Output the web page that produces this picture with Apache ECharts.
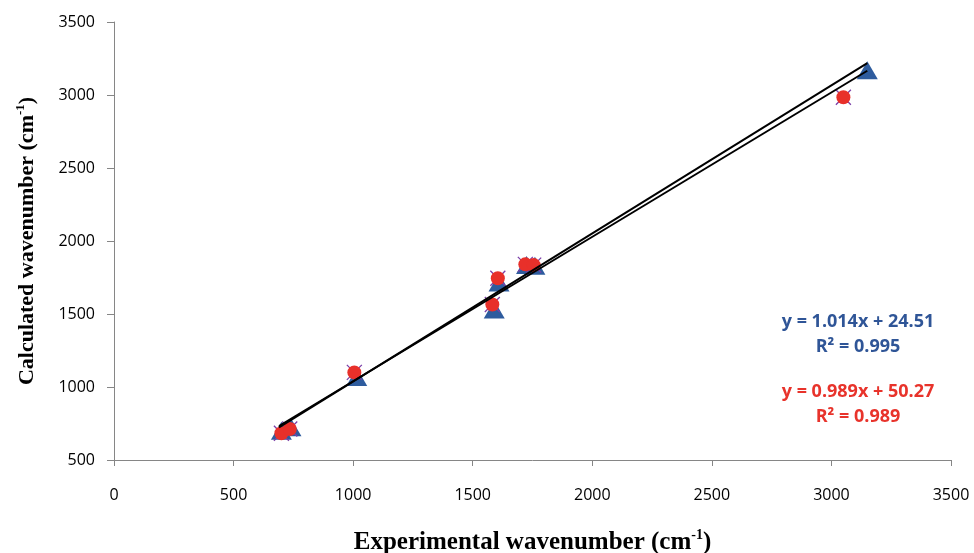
<!DOCTYPE html>
<html>
<head>
<meta charset="utf-8">
<script src="https://cdn.jsdelivr.net/npm/echarts@6/dist/echarts.min.js"></script>
<style>html,body{margin:0;padding:0;background:#fff}#c{width:974px;height:553px}</style>
</head>
<body>
<div id="c"></div>
<script>
// Data
var xTicks = [0, 500, 1000, 1500, 2000, 2500, 3000, 3500];
var yTicks = [500, 1000, 1500, 2000, 2500, 3000, 3500];
var blueTriangles = [[700, 700], [740, 725], [1015, 1068], [1590, 1530], [1610, 1715], [1725, 1835], [1760, 1830], [3150, 3170]];
var purpleCrosses = [[700, 683], [735, 712], [1005, 1100], [1582, 1565], [1605, 1745], [1720, 1840], [1755, 1835], [3050, 2985]];
var redCircles = [[700, 683], [735, 712], [1005, 1100], [1582, 1565], [1605, 1745], [1720, 1840], [1755, 1835], [3050, 2985]];
var blueFit = [[690, 724], [3150, 3219]];
var redFit = [[690, 733], [3150, 3166]];
var blueEq = ['y = 1.014x + 24.51', 'R² = 0.995'];
var redEq = ['y = 0.989x + 50.27', 'R² = 0.989'];

var chart = echarts.init(document.getElementById('c'));
var axisGrey = '#868686';
var tickFont = {fontFamily: 'Open Sans', fontSize: 16, color: '#000', formatter: function (v) { return String(v); }};
var crossPath = 'path://M0,0L10,10M10,0L0,10';
function titleRich(size) {
  return {rich: {
    a: {fontFamily: 'Liberation Serif', fontWeight: 'bold', fontSize: size, color: '#000', lineHeight: size + 4},
    s: {fontFamily: 'Liberation Serif', fontWeight: 'bold', fontSize: Math.round(size * 0.58), color: '#000', lineHeight: size + 4, verticalAlign: 'top', padding: [0, 0, Math.round(size * 0.45), 0]}
  }};
}
chart.setOption({
  animation: false,
  grid: {left: 114, right: 23, top: 22, bottom: 93, containLabel: false, outerBoundsMode: 'none'},
  xAxis: {
    type: 'value', min: 0, max: 3500, interval: 500,
    splitLine: {show: false},
    axisLine: {show: true, onZero: false, lineStyle: {color: axisGrey, width: 1}},
    axisTick: {show: true, length: 6, lineStyle: {color: axisGrey}},
    axisLabel: Object.assign({margin: 27}, tickFont),
    name: '{a|Experimental wavenumber (cm}{s|-1}{a|)}',
    nameLocation: 'middle', nameGap: 68,
    nameTextStyle: titleRich(25)
  },
  yAxis: {
    type: 'value', min: 500, max: 3500, interval: 500,
    splitLine: {show: false},
    axisLine: {show: true, onZero: false, lineStyle: {color: axisGrey, width: 1}},
    axisTick: {show: true, length: 7, lineStyle: {color: axisGrey}},
    axisLabel: Object.assign({margin: 19}, tickFont),
    name: '{a|Calculated wavenumber (cm}{s|-1}{a|)}',
    nameLocation: 'middle', nameGap: 74, nameRotate: 90,
    nameTextStyle: titleRich(22)
  },
  series: [
    {type: 'line', data: blueFit, showSymbol: false, symbol: 'none', lineStyle: {color: '#000', width: 2}, z: 5},
    {type: 'line', data: redFit, showSymbol: false, symbol: 'none', lineStyle: {color: '#000', width: 2}, z: 5},
    {type: 'scatter', data: blueTriangles, symbol: 'triangle', symbolSize: [21, 18], itemStyle: {color: '#2E5C9E', opacity: 1}, z: 2},
    {type: 'scatter', data: purpleCrosses, symbol: crossPath, symbolSize: 15, itemStyle: {color: 'none', borderColor: '#7B3FA8', borderWidth: 1.3, opacity: 1}, z: 3},
    {type: 'scatter', data: redCircles, symbol: 'circle', symbolSize: 14, itemStyle: {color: '#E8302A', opacity: 1}, z: 4}
  ],
  graphic: [
    {type: 'text', style: {text: blueEq[0], x: 858, y: 322, textAlign: 'center', textVerticalAlign: 'middle', font: 'bold 18px "Open Sans"', fill: '#2F5597'}},
    {type: 'text', style: {text: blueEq[1], x: 858, y: 347, textAlign: 'center', textVerticalAlign: 'middle', font: 'bold 18px "Open Sans"', fill: '#2F5597'}},
    {type: 'text', style: {text: redEq[0], x: 858, y: 392, textAlign: 'center', textVerticalAlign: 'middle', font: 'bold 18px "Open Sans"', fill: '#E8332B'}},
    {type: 'text', style: {text: redEq[1], x: 858, y: 417, textAlign: 'center', textVerticalAlign: 'middle', font: 'bold 18px "Open Sans"', fill: '#E8332B'}}
  ]
});
</script>
</body>
</html>
